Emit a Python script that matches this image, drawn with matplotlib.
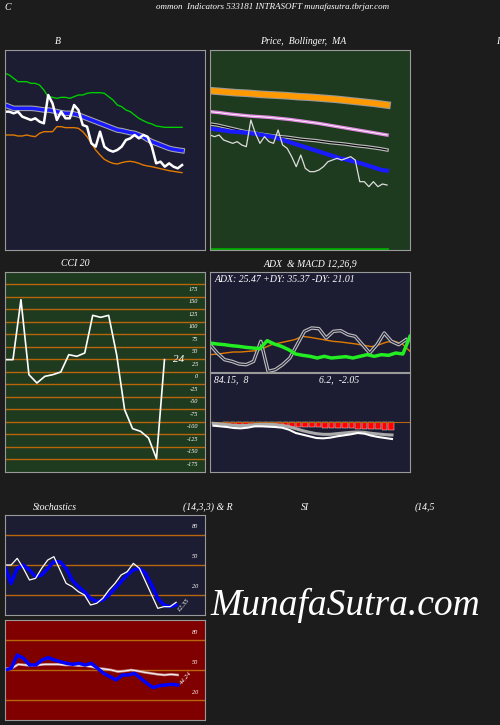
import matplotlib
matplotlib.use('Agg')
import matplotlib.pyplot as plt
import numpy as np

plt.rcParams['font.family'] = ['Liberation Serif', 'DejaVu Serif']
plt.rcParams['font.style'] = 'italic'

# --- data (screen-ish units) ---
b_close = [335,335,340,335,350,355,360,355,365,370,285,310,360,335,355,355,315,330,375,380,430,440,395,440,450,455,450,440,420,415,405,415,405,410,440,490,485,500,490,500,505,495]
b_ma = [315,320,325,325,325,325,325,326,328,330,330,332,335,338,340,340,342,345,350,355,360,365,370,375,380,385,390,392,395,398,400,405,410,418,425,430,435,440,445,448,450,452]
b_upper = [220,225,235,245,245,245,250,250,255,270,290,292,295,292,292,295,290,285,285,280,278,278,278,280,290,300,315,320,330,335,345,355,362,368,372,378,380,382,382,382,382,382]
b_lower = [405,405,405,408,408,405,408,410,400,395,395,395,380,380,383,383,383,385,395,410,430,450,465,478,485,490,492,488,485,484,486,490,495,498,500,503,506,509,512,514,516,518]
p_close = [405,410,405,420,425,430,425,435,440,360,400,430,410,425,430,390,435,445,470,500,465,505,515,515,510,500,485,480,475,480,475,470,480,545,545,560,545,560,552,555]
p_ma_short = [385,388,390,392,395,395,397,398,400,402,405,408,410,415,420,425,430,435,440,445,450,455,460,465,470,475,478,482,486,490,495,500,505,510,512]
p_ma_mid = [372,375,380,385,390,395,398,402,405,408,410,412,415,418,420,422,425,428,430,432,435,438,440,443,446,450]
p_ma_long = [335,338,342,345,348,350,352,355,358,362,366,370,375,380,385,390,395,400,405]
p_ma_top = [272,275,278,280,283,285,287,290,292,295,298,302,306,310,315]
cci = [285,285,105,330,355,335,330,322,270,275,265,152,158,152,270,435,492,500,520,582,285]
cci_levels = [175,150,125,100,75,50,25,0,-25,-50,-75,-100,-125,-150,-175]
adx = [235,238,240,243,245,248,250,252,228,238,245,255,268,272,275,280,275,280,278,276,280,275,270,275,270,272,265,268,215]
pdi = [240,265,285,290,298,300,290,230,320,315,300,280,240,200,190,192,220,200,198,210,215,240,265,240,205,230,240,225]
mdi = [270,268,265,262,262,260,258,250,240,235,230,225,215,218,222,226,230,232,235,238,242,246,240,232,230,238,260]
macd = [478,480,482,485,486,484,480,480,481,482,484,490,500,505,510,515,516,514,510,507,504,500,502,508,512,515,518]
macd_sig = [476,478,480,482,483,482,480,479,479,480,482,486,492,498,503,507,509,509,507,505,503,502,503,506,508,510,511]
macd_hist = [480,481,482,483,483,484,484,485,485,486,486,487,487,488,488,489,489,490,490,491,492,492,493,494,495,496]
stoch_k = [210,210,190,220,255,250,220,195,185,225,265,275,290,300,330,325,310,285,265,240,230,205,220,260,300,340,335,335,322]
stoch_d = [215,265,220,210,225,245,240,220,200,200,220,255,275,290,310,320,315,300,280,260,240,225,220,235,270,310,330,335,330]
rsi_a = [520,520,508,510,512,510,508,508,508,510,510,512,512,515,520,522,525,530,528,525,528,532,535,538,540,538,540]
rsi_b = [525,520,480,490,510,510,495,488,495,500,505,508,505,510,505,520,535,545,555,540,540,535,550,565,578,572,570,568,570]

BG = '#1c1c1c'
NAVY = '#1c1c33'
GREEN = '#1f3b1f'
ORANGE = '#b8660b'

fig = plt.figure(figsize=(5, 7.25), dpi=100, facecolor=BG)

def panel(x, y, w, h, bg):
    a = fig.add_axes([x / 500, 1 - (y + h) / 725, w / 500, h / 725], facecolor=bg)
    a.set_xticks([]); a.set_yticks([])
    for s in a.spines.values():
        s.set_color('#999999')
    return a

def xs(arr, x0, x1):
    return np.linspace(x0, x1, len(arr))

def t(x, y, s, size=7, **kw):
    fig.text(x / 500, 1 - y / 725, s, color='white', fontsize=size, ha='center', va='center', **kw)

# Bollinger panel (zoom units, x 15..617, y 150..750)
a = panel(5, 50, 200, 200, NAVY)
a.set_xlim(15, 617); a.set_ylim(750, 150)
a.plot(xs(b_upper, 15, 548), b_upper, color='#00cc00', lw=1)
a.plot(xs(b_lower, 15, 548), b_lower, color='#e07b00', lw=1)
a.plot(xs(b_ma, 15, 548), b_ma, color='#aaaaaa', lw=4)
a.plot(xs(b_ma, 15, 548), b_ma, color='#1a1aff', lw=2.5)
a.plot(xs(b_close, 15, 548), b_close, color='white', lw=1.8)

# Price MA panel
a = panel(210, 50, 200, 200, GREEN)
a.set_xlim(632, 1232); a.set_ylim(750, 150)
a.plot(xs(p_ma_top, 632, 1163), p_ma_top, color='#999999', lw=5.5)
a.plot(xs(p_ma_top, 632, 1163), p_ma_top, color='#ff9900', lw=4)
a.plot(xs(p_ma_long, 632, 1163), p_ma_long, color='#dd88dd', lw=2.5)
a.plot(xs(p_ma_long, 632, 1163), p_ma_long, color='white', lw=0.6)
a.plot(xs(p_ma_mid, 632, 1163), p_ma_mid, color='#bbbbbb', lw=2.5)
a.plot(xs(p_ma_mid, 632, 1163), p_ma_mid, color='black', lw=0.8)
a.plot(xs(p_ma_short, 632, 1163), p_ma_short, color='#1a1aff', lw=3)
a.plot(xs(p_close, 632, 1163), p_close, color='#dddddd', lw=0.9)
a.plot([632, 1163], [748, 748], color='#00aa00', lw=2)

# CCI panel
a = panel(5, 272, 200, 200, GREEN)
a.set_xlim(15, 617); a.set_ylim(-200, 200)
for lv in cci_levels:
    a.axhline(lv, color=ORANGE, lw=1)
    a.text(597, lv - 10, str(lv), color='white', fontsize=4.5, ha='right', va='center')
cv = [(322 - v) / 37.5 * 25 for v in cci]
a.plot(xs(cv, 15, 495), cv, color='white', lw=1.2)
a.text(520, cv[-1], '24', color='white', fontsize=8, va='center')

# ADX panel
a = panel(210, 272, 200, 100, NAVY)
a.set_xlim(632, 1232); a.set_ylim(322, 22)
a.plot(xs(mdi, 632, 1232), mdi, color='#e07b00', lw=1)
a.plot(xs(pdi, 632, 1220), pdi, color='#bbbbbb', lw=2.5)
a.plot(xs(pdi, 632, 1220), pdi, color='#1c1c33', lw=0.8)
a.plot(xs(adx, 632, 1232), adx, color='#22ee22', lw=2.5)
a.text(645, 45, 'ADX: 25.47 +DY: 35.37 -DY: 21.01', color='white', fontsize=7, va='center')

# MACD panel
a = panel(210, 373, 200, 99, NAVY)
a.set_xlim(632, 1232); a.set_ylim(622, 325)
a.axhline(472, color=ORANGE, lw=0.8)
hx = xs(macd_hist, 680, 1175)
a.bar(hx, [v - 472 for v in macd_hist], bottom=472, width=17, color='red', edgecolor='white', lw=0.3)
a.plot(xs(macd_sig, 642, 1178), macd_sig, color='#aaaaaa', lw=2.2)
a.plot(xs(macd, 642, 1178), [v + 5 for v in macd], color='white', lw=1.5)
a.text(645, 345, '84.15,  8', color='white', fontsize=7, va='center')
a.text(958, 345, '6.2,  -2.05', color='white', fontsize=7, va='center')

# Stochastics
a = panel(5, 515, 200, 100, NAVY)
a.set_xlim(15, 617); a.set_ylim(0, 100)
for lv in (80, 50, 20):
    a.axhline(lv, color=ORANGE, lw=1)
    a.text(597, lv + 8, str(lv), color='white', fontsize=4.5, ha='right', va='center')
sk = [100 - (v - 60) / 3 for v in stoch_k]
sd = [100 - (v - 60) / 3 for v in stoch_d]
a.plot(xs(sd, 15, 530), sd, color='#0000ff', lw=2.5)
a.plot(xs(sk, 15, 530), sk, color='white', lw=0.9)
a.text(553, 10, '12.35', color='white', fontsize=5, rotation=50, ha='center', va='center')

# RSI
a = panel(5, 620, 200, 100, '#800000')
a.set_xlim(15, 617); a.set_ylim(0, 100)
for lv in (80, 50, 20):
    a.axhline(lv, color=ORANGE, lw=1)
    a.text(597, lv + 8, str(lv), color='white', fontsize=4.5, ha='right', va='center')
ra = [100 - (v - 375) / 3 for v in rsi_a]
rb = [100 - (v - 375) / 3 for v in rsi_b]
a.plot(xs(ra, 15, 535), ra, color='#cc9999', lw=1.8)
a.plot(xs(ra, 15, 535), ra, color='white', lw=0.6)
a.plot(xs(rb, 15, 535), rb, color='#0000ff', lw=2.5)
a.text(560, 42, '44.24', color='white', fontsize=5, rotation=50, ha='center', va='center')

# titles
t(8, 7, 'C')
t(273, 7, 'ommon  Indicators 533181 INTRASOFT munafasutra.tbrjar.com', 6.5)
t(58, 42, 'B')
t(303, 42, 'Price,  Bollinger,  MA')
t(498, 42, 'I')
t(75, 264, 'CCI 20')
t(310, 264, 'ADX  & MACD 12,26,9')
t(55, 507, 'Stochastics')
t(208, 507, '(14,3,3) & R')
t(305, 507, 'SI')
t(425, 507, '(14,5')
t(345, 605, 'MunafaSutra.com', 27)

fig.savefig('out.png', dpi=100, facecolor=BG)
